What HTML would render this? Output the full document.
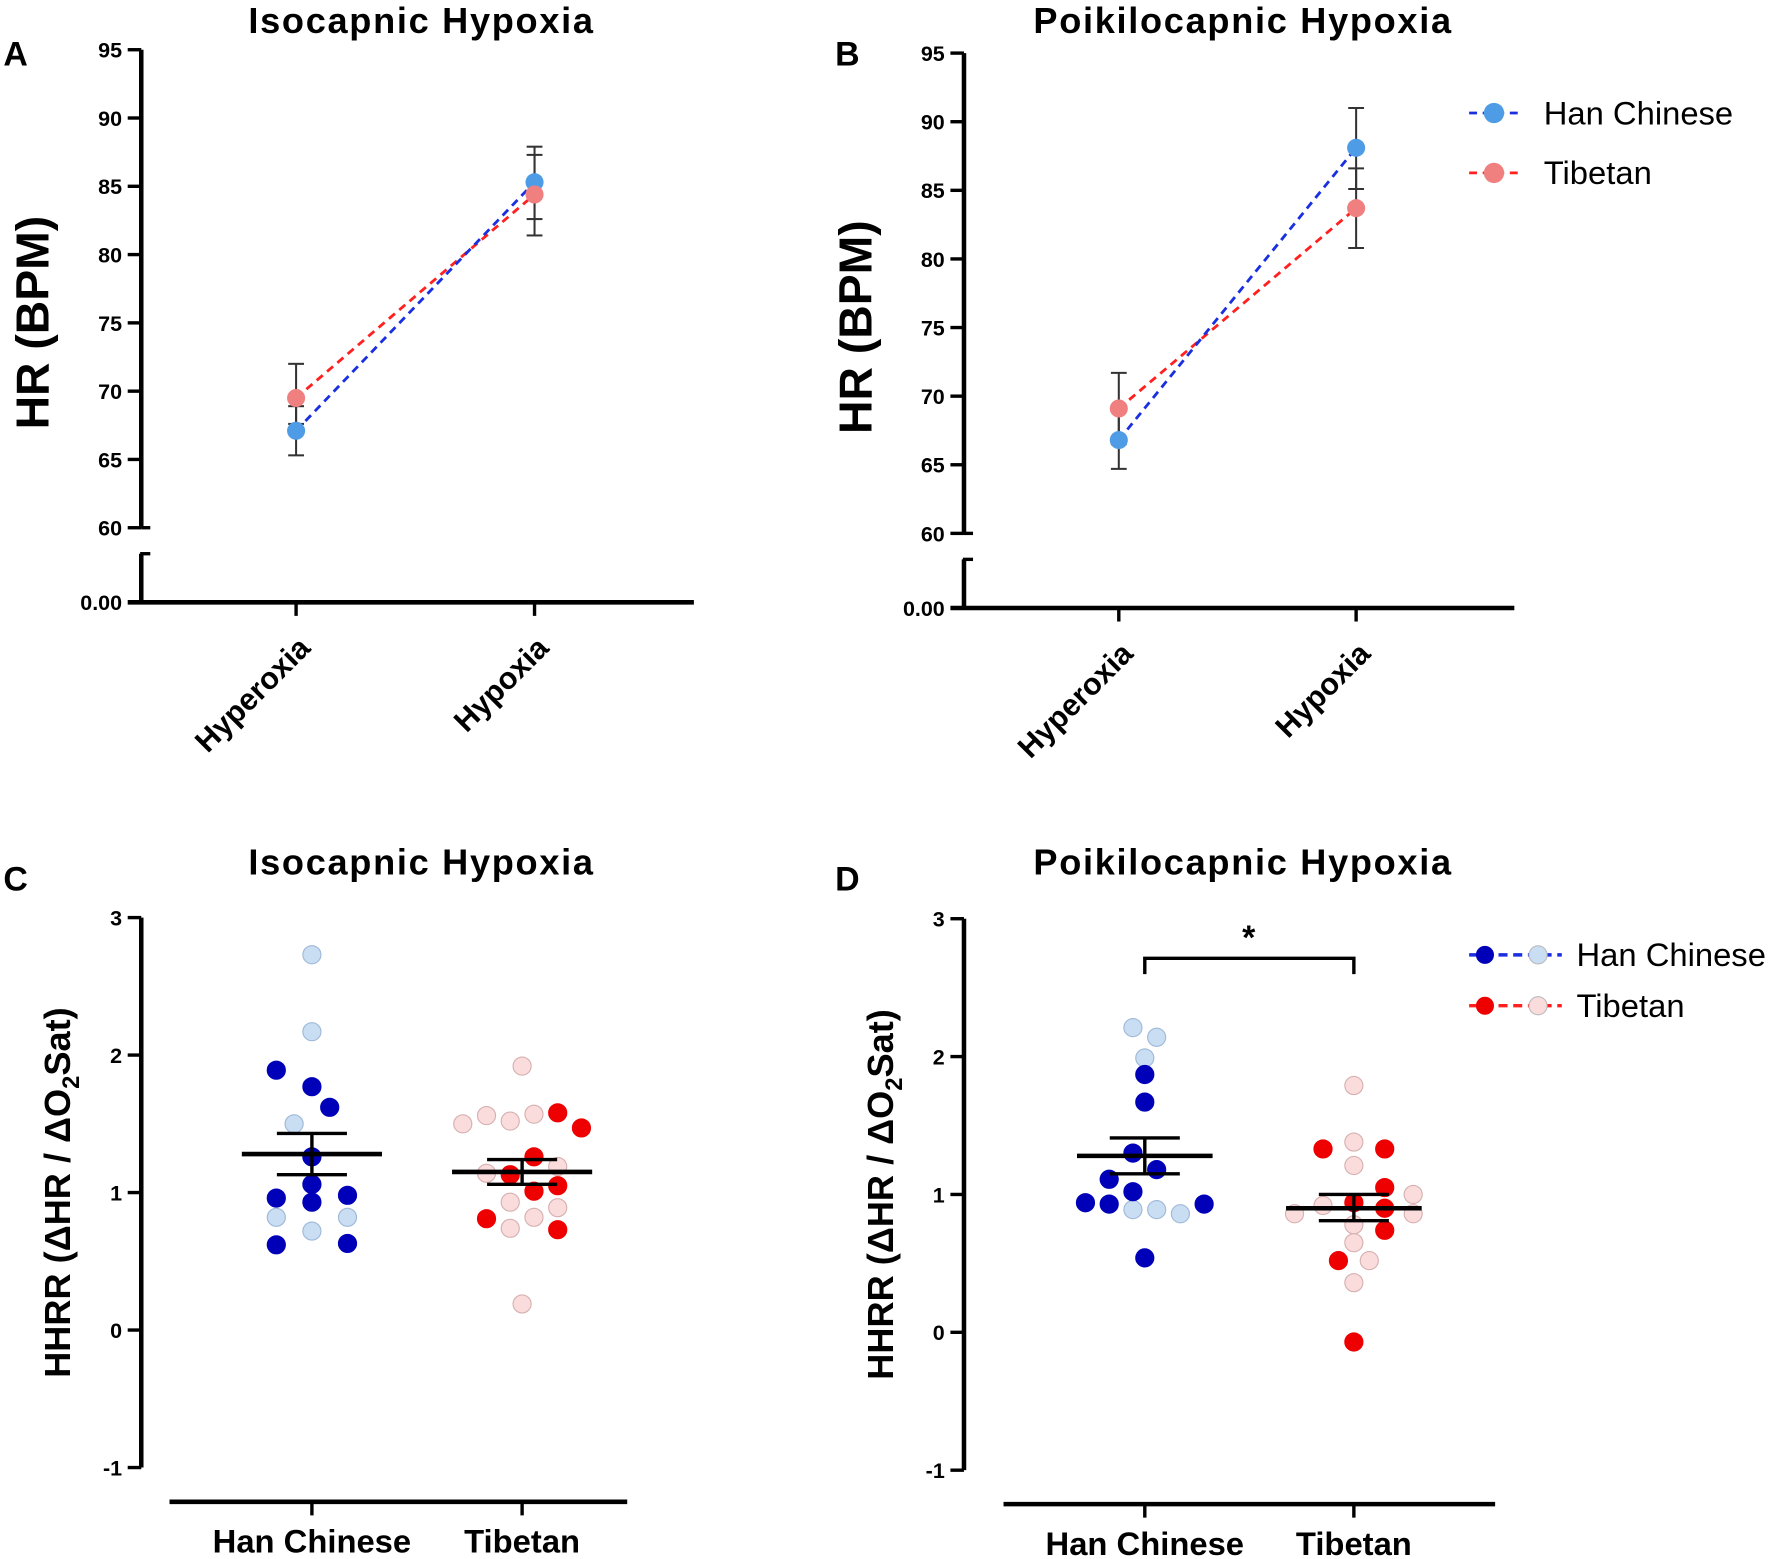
<!DOCTYPE html>
<html><head><meta charset="utf-8"><style>
html,body{margin:0;padding:0;background:#fff}
svg{display:block}
text{font-family:"Liberation Sans",Arial,sans-serif;fill:#000}
</style></head><body>
<svg id="fig" width="1772" height="1559" viewBox="0 0 1568 1379.6" preserveAspectRatio="none"></svg>
<script>
// ---- Data ----
const hrConditions = ["Hyperoxia","Hypoxia"];
const hrTicks = [60,65,70,75,80,85,90,95];
const isoHanMean = [67.1, 85.3];
const isoHanLo = [65.3, 82.6];
const isoHanHi = [68.9, 87.9];
const isoTibMean = [69.5, 84.4];
const isoTibLo = [67.6, 81.4];
const isoTibHi = [72.0, 87.3];
const poiHanMean = [66.8, 88.1];
const poiHanLo = [64.7, 85.1];
const poiHanHi = [68.9, 91.0];
const poiTibMean = [69.1, 83.7];
const poiTibLo = [66.5, 80.8];
const poiTibHi = [71.7, 86.6];

const groups = ["Han Chinese","Tibetan"];
const hhrrTicks = [-1,0,1,2,3];
// [jitter slot, value]
const isoHanDark = [[-3,1.89],[0,1.77],[1.5,1.62],[0,1.26],[0,1.06],[-3,0.96],[0,0.93],[3,0.98],[-3,0.62],[3,0.63]];
const isoHanLight = [[0,2.73],[0,2.17],[-1.5,1.50],[-3,0.82],[3,0.82],[0,0.72]];
const isoTibDark = [[3,1.58],[5,1.47],[1,1.26],[-1,1.13],[1,1.01],[3,1.05],[-3,0.81],[3,0.73]];
const isoTibLight = [[0,1.92],[-5,1.50],[-3,1.56],[-1,1.52],[1,1.57],[3,1.19],[-3,1.14],[-1,0.93],[3,0.89],[1,0.82],[-1,0.74],[0,0.19]];
const isoStats = [[1.28,1.13,1.43],[1.15,1.06,1.24]];
const poiHanDark = [[0,1.87],[0,1.67],[-1,1.30],[1,1.18],[-3,1.11],[-1,1.02],[-5,0.94],[-3,0.93],[5,0.93],[0,0.54]];
const poiHanLight = [[-1,2.21],[1,2.14],[0,1.99],[-1,0.89],[1,0.89],[3,0.86]];
const poiTibDark = [[-2.6,1.33],[2.6,1.33],[2.6,1.05],[0,0.94],[2.6,0.90],[2.6,0.74],[-1.3,0.52],[0,-0.07]];
const poiTibLight = [[0,1.79],[0,1.38],[0,1.21],[5,1.00],[-2.6,0.92],[-5,0.86],[5,0.86],[0,0.78],[0,0.65],[1.3,0.52],[0,0.36]];
const poiStats = [[1.28,1.15,1.41],[0.90,0.81,1.00]];

const NS="http://www.w3.org/2000/svg";
const svg=document.getElementById('fig');
function mk(tag,attrs,parent,name,txt){
  const e=document.createElementNS(NS,tag);
  for(const k in attrs)e.setAttribute(k,attrs[k]);
  
  
  if(txt!==undefined)e.textContent=txt;
  (parent||svg).appendChild(e);return e;
}

function hrPanel(o){
  const g=mk('g',{},svg,o.name);
  const y=v=>o.y60-(v-60)*(o.y60-o.y95)/35;
  const x=i=>o.cx[i];
  mk('text',{x:o.titleX,y:29,'font-size':32,'font-weight':'bold','text-anchor':'middle','letter-spacing':1.5},g,'panel-title',o.title);
  mk('text',{x:o.letterX,y:58,'font-size':30,'font-weight':'bold'},g,'panel-letter',o.letter);
  mk('text',{transform:`translate(${o.ax-82},${(o.y95+o.y60)/2+30}) rotate(-90)`,'font-size':41,'font-weight':'bold','text-anchor':'middle'},g,'y-axis-title','HR (BPM)');
  mk('line',{x1:o.ax,y1:o.y95,x2:o.ax,y2:o.y60,stroke:'#000','stroke-width':4},g,'y-axis-upper');
  mk('line',{x1:o.ax,y1:o.y60+23,x2:o.ax,y2:o.y0,stroke:'#000','stroke-width':4},g,'y-axis-lower');
  mk('line',{x1:o.ax-1,y1:o.y60+23,x2:o.ax+8,y2:o.y60+23,stroke:'#000','stroke-width':3},g,'axis-break-tick');
  hrTicks.forEach(t=>{
    mk('line',{x1:o.ax-12,y1:y(t),x2:o.ax,y2:y(t),stroke:'#000','stroke-width':3},g,'y-tick');
    mk('text',{x:o.ax-17,y:y(t)+7,'font-size':19,'font-weight':'bold','text-anchor':'end'},g,'y-tick-label',t);
  });
  mk('line',{x1:o.ax+8,y1:o.y60,x2:o.ax,y2:o.y60,stroke:'#000','stroke-width':3},g,'axis-break-tick');
  mk('line',{x1:o.ax-12,y1:o.y0,x2:o.xEnd,y2:o.y0,stroke:'#000','stroke-width':4},g,'x-axis');
  mk('text',{x:o.ax-17,y:o.y0+7,'font-size':19,'font-weight':'bold','text-anchor':'end'},g,'y-tick-label','0.00');
  hrConditions.forEach((c,i)=>{
    mk('line',{x1:x(i),y1:o.y0,x2:x(i),y2:o.y0+12,stroke:'#000','stroke-width':3},g,'x-tick');
    mk('text',{transform:`translate(${x(i)+14},${o.y0+42}) rotate(-45)`,'font-size':27,'font-weight':'bold','text-anchor':'end'},g,'x-tick-label',c);
  });
  const series=[[o.tib,'#ff2020','#f08080','tibetan'],[o.han,'#1a2fe0','#4e9ce6','han-chinese']];
  series.forEach(s=>{
    const [m,lo,hi]=s[0];
    mk('line',{x1:x(0),y1:y(m[0]),x2:x(1),y2:y(m[1]),stroke:s[1],'stroke-width':2.5,'stroke-dasharray':'7,5'},g,s[3]+'-line');
  });
  series.forEach(s=>{
    const [m,lo,hi]=s[0];
    m.forEach((v,i)=>{
      mk('line',{x1:x(i),y1:y(lo[i]),x2:x(i),y2:y(hi[i]),stroke:'#333','stroke-width':1.8},g,s[3]+'-error-bar');
      mk('line',{x1:x(i)-7,y1:y(lo[i]),x2:x(i)+7,y2:y(lo[i]),stroke:'#333','stroke-width':1.8},g,s[3]+'-error-cap');
      mk('line',{x1:x(i)-7,y1:y(hi[i]),x2:x(i)+7,y2:y(hi[i]),stroke:'#333','stroke-width':1.8},g,s[3]+'-error-cap');
    });
  });
  series.slice().reverse().forEach(s=>{
    s[0][0].forEach((v,i)=>mk('circle',{cx:x(i),cy:y(v),r:8,fill:s[2]},g,s[3]+'-point'));
  });
}
hrPanel({name:'panel-a',title:'Isocapnic Hypoxia',titleX:373,letter:'A',letterX:3,ax:125,y95:44,y60:467,y0:533,xEnd:614,cx:[262,473],
  han:[isoHanMean,isoHanLo,isoHanHi],tib:[isoTibMean,isoTibLo,isoTibHi]});
hrPanel({name:'panel-b',title:'Poikilocapnic Hypoxia',titleX:1100,letter:'B',letterX:739,ax:853,y95:47,y60:472,y0:538,xEnd:1340,cx:[990,1200],
  han:[poiHanMean,poiHanLo,poiHanHi],tib:[poiTibMean,poiTibLo,poiTibHi]});

// legend B
const lgB=mk('g',{},svg,'legend-b');
[['Han Chinese','#1a2fe0','#4e9ce6',100],['Tibetan','#ff2020','#f08080',153]].forEach(l=>{
  const e=mk('g',{},lgB,'legend-entry');
  mk('line',{x1:1300,y1:l[3],x2:1346,y2:l[3],stroke:l[1],'stroke-width':2.5,'stroke-dasharray':'7,5'},e,'legend-line');
  mk('circle',{cx:1322,cy:l[3],r:9,fill:l[2]},e,'legend-marker');
  mk('text',{x:1366,y:l[3]+10,'font-size':29},e,'legend-label',l[0]);
});

function hhrrPanel(o){
  const g=mk('g',{},svg,o.name);
  const y=v=>o.y0-v*(o.y0-o.y3)/3;
  const unit=10.5;
  mk('text',{x:o.titleX,y:774,'font-size':32,'font-weight':'bold','text-anchor':'middle','letter-spacing':1.5},g,'panel-title',o.title);
  mk('text',{x:o.letterX,y:788,'font-size':30,'font-weight':'bold'},g,'panel-letter',o.letter);
  const yt=mk('text',{transform:`translate(${o.ax-63},${y(1)}) rotate(-90)`,'font-size':32,'font-weight':'bold','text-anchor':'middle'},g,'y-axis-title');
  yt.appendChild(document.createTextNode('HHRR (ΔHR / ΔO'));
  const sub=document.createElementNS(NS,'tspan');sub.setAttribute('font-size','21');sub.setAttribute('dy','8');sub.textContent='2';
  
  
  yt.appendChild(sub);
  const rest=document.createElementNS(NS,'tspan');rest.setAttribute('dy','-8');rest.textContent='Sat)';
  
  
  yt.appendChild(rest);
  mk('line',{x1:o.ax,y1:y(3),x2:o.ax,y2:y(-1),stroke:'#000','stroke-width':4},g,'y-axis');
  hhrrTicks.forEach(t=>{
    mk('line',{x1:o.ax-12,y1:y(t),x2:o.ax,y2:y(t),stroke:'#000','stroke-width':3},g,'y-tick');
    mk('text',{x:o.ax-17,y:y(t)+7,'font-size':19,'font-weight':'bold','text-anchor':'end'},g,'y-tick-label',t);
  });
  mk('line',{x1:o.xStart,y1:o.xAxisY,x2:o.xEnd,y2:o.xAxisY,stroke:'#000','stroke-width':4},g,'x-axis');
  groups.forEach((c,i)=>{
    mk('line',{x1:o.cx[i],y1:o.xAxisY,x2:o.cx[i],y2:o.xAxisY+12,stroke:'#000','stroke-width':3},g,'x-tick');
    mk('text',{x:o.cx[i],y:o.xAxisY+45,'font-size':29,'font-weight':'bold','text-anchor':'middle'},g,'x-tick-label',c);
  });
  const sets=[[o.hanLight,0,'#c9ddf3','#9fb9d8','han-light-point'],[o.hanDark,0,'#0000b8','#0000b8','han-dark-point'],
    [o.tibLight,1,'#fadcdc','#d7b0b0','tibetan-light-point'],[o.tibDark,1,'#ee0000','#ee0000','tibetan-dark-point']];
  sets.forEach(s=>s[0].forEach(p=>mk('circle',{cx:o.cx[s[1]]+p[0]*unit,cy:y(p[1]),r:8,fill:s[2],stroke:s[3],'stroke-width':1},g,s[4])));
  o.stats.forEach((st,i)=>{
    const cx=o.cx[i];
    mk('line',{x1:cx-o.mw,y1:y(st[0]),x2:cx+o.mw,y2:y(st[0]),stroke:'#000','stroke-width':4},g,'mean-line');
    mk('line',{x1:cx,y1:y(st[1]),x2:cx,y2:y(st[2]),stroke:'#000','stroke-width':3},g,'sem-bar');
    mk('line',{x1:cx-31,y1:y(st[1]),x2:cx+31,y2:y(st[1]),stroke:'#000','stroke-width':3},g,'sem-cap');
    mk('line',{x1:cx-31,y1:y(st[2]),x2:cx+31,y2:y(st[2]),stroke:'#000','stroke-width':3},g,'sem-cap');
  });
  return {g,y};
}
hhrrPanel({name:'panel-c',title:'Isocapnic Hypoxia',titleX:373,letter:'C',letterX:3,ax:125,y3:812,y0:1177,xAxisY:1329,xStart:150,xEnd:555,cx:[276,462],mw:62,
  hanDark:isoHanDark,hanLight:isoHanLight,tibDark:isoTibDark,tibLight:isoTibLight,stats:isoStats});
const pd=hhrrPanel({name:'panel-d',title:'Poikilocapnic Hypoxia',titleX:1100,letter:'D',letterX:739,ax:853,y3:813,y0:1179,xAxisY:1331,xStart:888,xEnd:1323,cx:[1013,1198],mw:60,
  hanDark:poiHanDark,hanLight:poiHanLight,tibDark:poiTibDark,tibLight:poiTibLight,stats:poiStats});
mk('path',{d:'M1013,862 V848 H1198 V862',fill:'none',stroke:'#000','stroke-width':3},pd.g,'significance-bracket');
mk('text',{x:1105,y:840,'font-size':30,'font-weight':'bold','text-anchor':'middle'},pd.g,'significance-star','*');

const lgD=mk('g',{},svg,'legend-d');
[['Han Chinese','#0000b8','#c9ddf3','#1a2fe0',845],['Tibetan','#ee0000','#fadcdc','#ff2020',890]].forEach(l=>{
  const e=mk('g',{},lgD,'legend-entry');
  mk('line',{x1:1300,y1:l[4],x2:1382,y2:l[4],stroke:l[3],'stroke-width':3,'stroke-dasharray':'8,5'},e,'legend-line');
  mk('circle',{cx:1314,cy:l[4],r:8,fill:l[1]},e,'legend-marker-dark');
  mk('circle',{cx:1361,cy:l[4],r:8,fill:l[2],stroke:'#bbb','stroke-width':1},e,'legend-marker-light');
  mk('text',{x:1395,y:l[4]+10,'font-size':29},e,'legend-label',l[0]);
});
</script>
</body></html>
